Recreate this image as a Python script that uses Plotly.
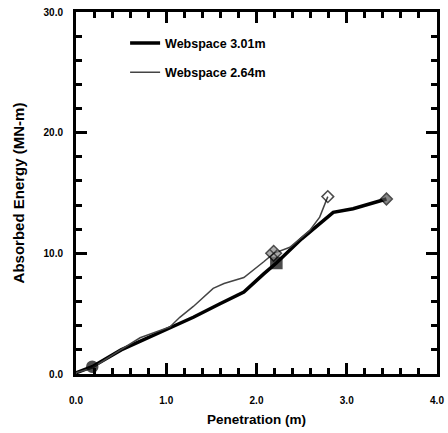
import plotly.graph_objects as go

# Webspace 3.01m (thick line)
x_301 = [0.0, 0.08, 0.18, 0.5, 1.04, 1.3, 1.59, 1.86, 2.08, 2.22, 2.5, 2.85, 3.07, 3.44]
y_301 = [0.1, 0.3, 0.6, 2.0, 3.8, 4.7, 5.8, 6.8, 8.3, 9.2, 11.2, 13.4, 13.7, 14.5]

# Webspace 2.64m (thin line)
x_264 = [0.0, 0.08, 0.18, 0.45, 0.71, 1.04, 1.15, 1.3, 1.52, 1.64, 1.86, 2.08, 2.19, 2.37, 2.59, 2.7, 2.79]
y_264 = [0.1, 0.3, 0.5, 1.8, 3.0, 3.9, 4.7, 5.6, 7.1, 7.5, 8.0, 9.3, 10.0, 10.5, 11.9, 13.0, 14.7]

# marker points
mk301_x = [0.18, 2.22, 3.44]
mk301_y = [0.6, 9.2, 14.5]
mk264_x = [2.19, 2.79]
mk264_y = [10.0, 14.7]

names = ["Webspace 3.01m", "Webspace 2.64m"]
x_ticks = [0, 1, 2, 3, 4]
x_labels = ["0.0", "1.0", "2.0", "3.0", "4.0"]
y_ticks = [0, 10, 20, 30]
y_labels = ["0.0", "10.0", "20.0", "30.0"]

fig = go.Figure()
fig.add_trace(go.Scatter(x=x_301, y=y_301, mode="lines", name=names[0],
                         line=dict(color="black", width=3.5), legendgroup="a"))
fig.add_trace(go.Scatter(x=x_264, y=y_264, mode="lines", name=names[1],
                         line=dict(color="#444444", width=1.5), legendgroup="b"))
fig.add_trace(go.Scatter(x=mk301_x, y=mk301_y, mode="markers", showlegend=False,
                         marker=dict(symbol=["circle", "square", "diamond"], size=[11, 11, 9],
                                     color=["black", "black", "#555555"],
                                     line=dict(color="black", width=1.5))))
fig.add_trace(go.Scatter(x=mk264_x, y=mk264_y, mode="markers", showlegend=False,
                         marker=dict(symbol=["diamond-x", "diamond-open"], size=[12, 9],
                                     color=["#888888", "black"],
                                     line=dict(color="black", width=1.5))))

tickfont = dict(family="Liberation Sans Narrow, Liberation Sans, Arial", size=10, color="black", weight="bold")
titlefont = dict(family="Liberation Sans, Arial", size=13.5, color="black", weight="bold")

axis_common = dict(showgrid=False, zeroline=False, showline=True, linecolor="black", linewidth=3,
                   mirror="allticks", ticks="inside", ticklen=11, tickwidth=2.5, tickcolor="black",
                   tickfont=tickfont, automargin=False)

fig.update_xaxes(range=[0, 4], tickvals=x_ticks, ticktext=x_labels, ticklabelstandoff=15,
                 minor=dict(ticks="inside", ticklen=6, tickwidth=2.5, tickcolor="black", dtick=0.2),
                 title=dict(text="Penetration (m)", font=titlefont, standoff=10), **axis_common)
fig.update_yaxes(range=[0, 30], tickvals=y_ticks, ticktext=y_labels, ticklabelstandoff=8,
                 minor=dict(ticks="inside", ticklen=6, tickwidth=2.5, tickcolor="black", dtick=2),
                 title=dict(text="Absorbed Energy (MN-m)", font=dict(titlefont, size=15), standoff=16),
                 **axis_common)

fig.update_layout(
    width=448, height=433,
    margin=dict(l=76, r=11, t=12, b=59),
    plot_bgcolor="white", paper_bgcolor="white",
    legend=dict(x=0.136, y=0.955, xanchor="left", yanchor="top",
                font=dict(family="Liberation Sans, Arial", size=12.5, color="black", weight="bold"),
                tracegroupgap=10, bgcolor="rgba(0,0,0,0)"),
)

fig.write_html("out.html")
